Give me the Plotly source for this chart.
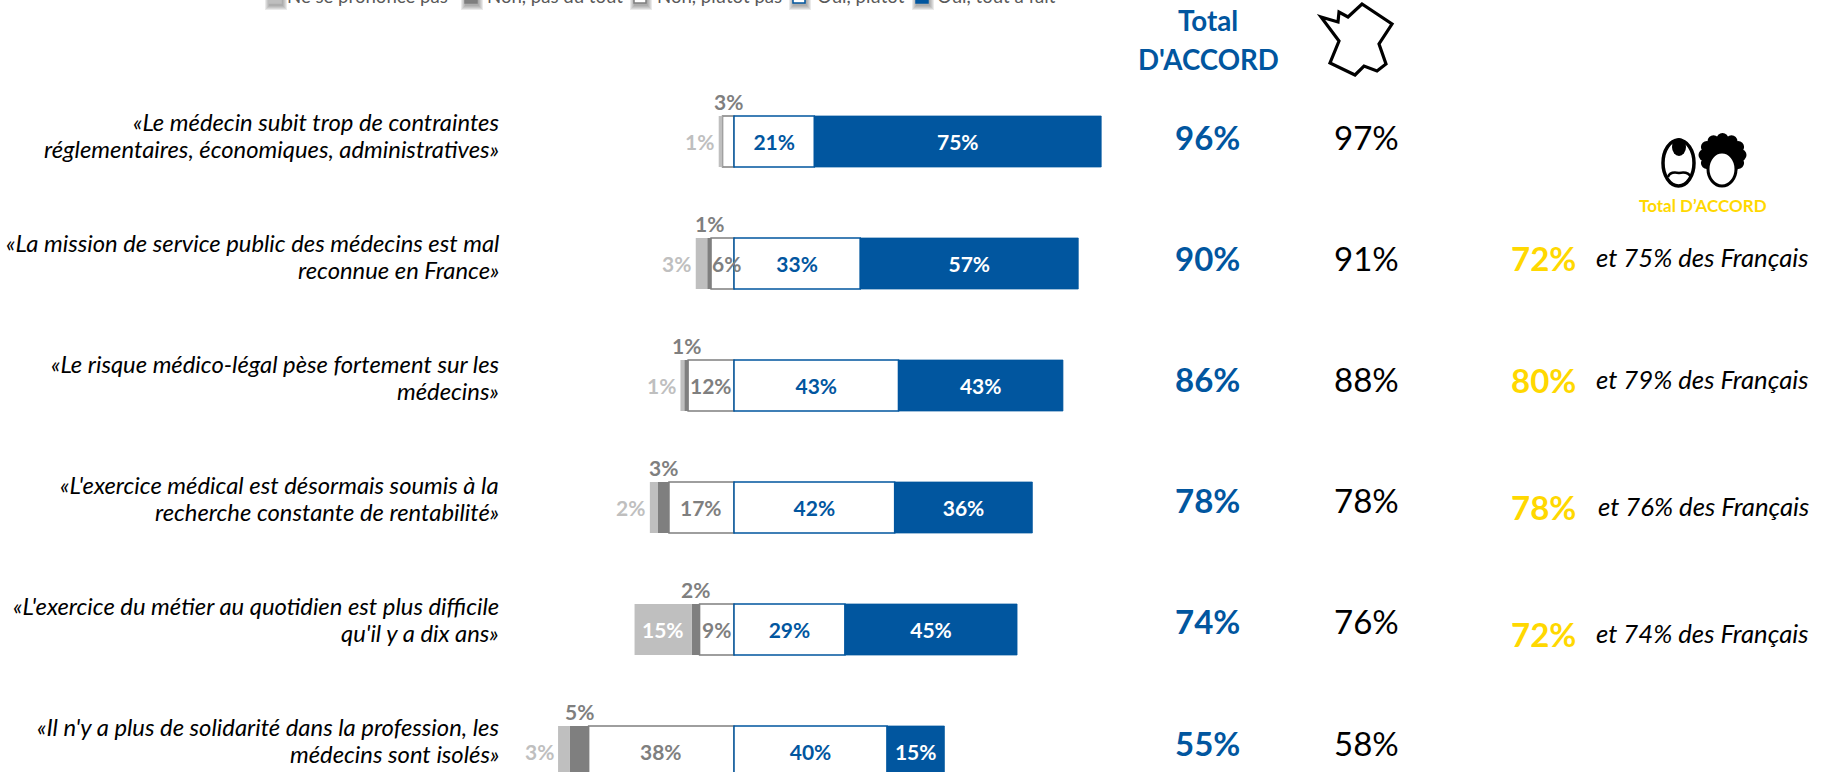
import math

import plotly.graph_objects as go

WIDTH = 1829
HEIGHT = 772
FONT = "Lato"

BLUE = "#01569F"
GREY = "#7F7F7F"
LIGHT = "#BFBFBF"
YELLOW = "#FFD800"

QUOTES = [
    "«Le médecin subit trop de contraintes<br>réglementaires, économiques, administratives»",
    "«La mission de service public des médecins est mal<br>reconnue en France»",
    "«Le risque médico-légal pèse fortement sur les<br>médecins»",
    "«L'exercice médical est désormais soumis à la<br>recherche constante de rentabilité»",
    "«L'exercice du métier au quotidien est plus difficile<br>qu'il y a dix ans»",
    "«Il n'y a plus de solidarité dans la profession, les<br>médecins sont isolés»",
]
NSP = [1, 3, 1, 2, 15, 3]
NON_DU_TOUT = [0, 1, 1, 3, 2, 5]
NON_PLUTOT = [3, 6, 12, 17, 9, 38]
OUI_PLUTOT = [21, 33, 43, 42, 29, 40]
OUI_TOUT = [75, 57, 43, 36, 45, 15]
TOTAL_ACCORD = [96, 90, 86, 78, 74, 55]
TOTAL_FRANCE = [97, 91, 88, 78, 76, 58]

DOCTORS = [72, 80, 78, 72]
FRENCH = [75, 79, 76, 74]
DOCTORS_Y = [258, 380, 507, 634]

LEGEND_LABELS = ["Ne se prononce pas", "Non, pas du tout", "Non, plutôt pas", "Oui, plutôt", "Oui, tout à fait"]
LEGEND_TEXT_X = [285, 485, 655, 815, 935]
LEGEND_SWATCH_X = [269, 465, 634, 793, 916]
LEGEND_FILL = [LIGHT, GREY, "white", "white", BLUE]
LEGEND_LINE = [LIGHT, GREY, GREY, BLUE, BLUE]

# icons, in page pixels
FRANCE_OUTLINE = [
    (1321, 17), (1338, 22), (1339, 12), (1348, 17), (1362, 4), (1392, 24), (1379, 44),
    (1386, 64), (1377, 71), (1364, 66), (1355, 75), (1330, 63), (1339, 41),
]


def px(x):
    return x / WIDTH


def py(y):
    return 1 - y / HEIGHT


def text(x, y, label, size, color="black", bold=False, italic=False, anchor="center"):
    if bold:
        label = f"<b>{label}</b>"
    if italic:
        label = f"<i>{label}</i>"
    return dict(
        x=px(x), y=py(y), xref="paper", yref="paper", text=label, showarrow=False,
        xanchor=anchor, yanchor="middle", font=dict(family=FONT, size=size, color=color),
    )


def ellipse(x0, y0, x1, y1, fill="black", line="black", width=0):
    return dict(
        type="circle", xref="paper", yref="paper", x0=px(x0), x1=px(x1), y0=py(y0), y1=py(y1),
        fillcolor=fill, line=dict(color=line, width=width), layer="above",
    )


def pct(values, sign=1):
    return [sign * v for v in values]


fig = go.Figure()


def add_bar(values, name, fill, line, line_width, labels=None, label_color="white"):
    fig.add_trace(
        go.Bar(
            y=QUOTES, x=values, orientation="h", name=name,
            marker=dict(color=fill, line=dict(color=line, width=line_width)),
            text=labels, textposition="inside", insidetextanchor="middle", textangle=0,
            constraintext="none", cliponaxis=False,
            textfont=dict(family=FONT, size=21, color=label_color, weight="bold"),
        )
    )


add_bar(pct(NON_PLUTOT, -1), "Non, plutôt pas", "white", GREY, 1.5)
add_bar(pct(NON_DU_TOUT, -1), "Non, pas du tout", GREY, GREY, 0)
add_bar(pct(NSP, -1), "Ne se prononce pas", LIGHT, LIGHT, 0)
add_bar(OUI_PLUTOT, "Oui, plutôt", "white", BLUE, 1.5, [f"{v}%" for v in OUI_PLUTOT], BLUE)
add_bar(OUI_TOUT, "Oui, tout à fait", BLUE, BLUE, 0.75, [f"{v}%" for v in OUI_TOUT], "white")

annotations = []
shapes = []

for i, quote in enumerate(QUOTES):
    left = NON_PLUTOT[i] + NON_DU_TOUT[i]

    def bar_label(x, label, color, yshift=0, xshift=0):
        return dict(
            x=x, y=quote, xref="x", yref="y", text=f"<b>{label}%</b>", showarrow=False,
            yshift=yshift, xshift=xshift, font=dict(family=FONT, size=21, color=color),
        )

    # the label above the bar belongs to the dark segment, or to the white one when there is no dark one
    if NON_DU_TOUT[i]:
        annotations.append(bar_label(-(NON_PLUTOT[i] + NON_DU_TOUT[i] / 2), NON_DU_TOUT[i], GREY, yshift=40))
        annotations.append(bar_label(-NON_PLUTOT[i] / 2, NON_PLUTOT[i], GREY, xshift=4 if NON_PLUTOT[i] == 6 else 0))
    else:
        annotations.append(bar_label(-NON_PLUTOT[i] / 2, NON_PLUTOT[i], GREY, yshift=40))

    if NSP[i] >= 10:
        annotations.append(bar_label(-(left + NSP[i] / 2), NSP[i], "white"))
    else:
        annotations.append(bar_label(-(left + NSP[i]), NSP[i], LIGHT, xshift=-19))

    # one annotation per line, plotly's own line height is too loose here
    first, second = quote.split("<br>")
    annotations.append(text(500.5, 122 + 121 * i, first, 23.8, italic=True, anchor="right"))
    annotations.append(text(500.5, 149 + 121 * i, second, 23.8, italic=True, anchor="right"))

    annotations.append(text(1207, 137 + 121.1 * i, f"{TOTAL_ACCORD[i]}%", 33, BLUE, bold=True))
    annotations.append(text(1366, 137 + 121.1 * i, f"{TOTAL_FRANCE[i]}%", 33))

annotations.append(text(1208, 21, "Total", 27.7, BLUE, bold=True))
annotations.append(text(1208, 59, "D'ACCORD", 27.7, BLUE, bold=True))
annotations.append(text(1703, 205, "Total D’ACCORD", 17, YELLOW, bold=True))

for doctors, french, y in zip(DOCTORS, FRENCH, DOCTORS_Y):
    annotations.append(text(1543, y, f"{doctors}%", 33, YELLOW, bold=True))
    annotations.append(text(1811, y - 1, f"et {french}% des Français", 25.7, italic=True, anchor="right"))

# legend sits half off the top of the page
for label, text_x, swatch_x, fill, line in zip(LEGEND_LABELS, LEGEND_TEXT_X, LEGEND_SWATCH_X, LEGEND_FILL, LEGEND_LINE):
    annotations.append(
        dict(
            x=px(text_x), y=1, xref="paper", yref="paper", text=label, showarrow=False,
            xanchor="left", yanchor="bottom", yshift=-9,
            font=dict(family=FONT, size=18.6, color="#595959"),
        )
    )
    for spread in (5, 4, 3, 2, 1):
        shapes.append(
            dict(
                type="rect", xref="paper", yref="paper", layer="above",
                x0=px(swatch_x - spread + 1), x1=px(swatch_x + 12 + spread + 1),
                y0=py(-4), y1=py(5 + spread), fillcolor="rgba(90,90,90,0.13)", line=dict(width=0),
            )
        )
    shapes.append(
        dict(
            type="rect", xref="paper", yref="paper", layer="above",
            x0=px(swatch_x), x1=px(swatch_x + 12), y0=py(-8), y1=py(3),
            fillcolor=fill, line=dict(color=line, width=1.5),
        )
    )

outline = "M " + " L ".join(f"{px(x)},{py(y)}" for x, y in FRANCE_OUTLINE) + " Z"
shapes.append(
    dict(type="path", xref="paper", yref="paper", path=outline, fillcolor="white",
         line=dict(color="black", width=3.2), layer="above")
)

# man
shapes.append(ellipse(1663, 140, 1694, 186, fill="white", width=3.5))
shapes.append(ellipse(1672, 138, 1686, 156))
shapes.append(
    dict(
        type="path", xref="paper", yref="paper", layer="above", fillcolor="rgba(0,0,0,0)",
        line=dict(color="black", width=2.5),
        path=f"M {px(1668)},{py(177)} Q {px(1670)},{py(171)} {px(1679)},{py(173)} "
             f"Q {px(1688)},{py(171)} {px(1691)},{py(177)}",
    )
)

# woman: scalloped hair with the face on top
shapes.append(ellipse(1702, 138, 1744, 174))
for angle in range(0, 360, 30):
    cx = 1722.5 + 18 * math.cos(math.radians(angle))
    cy = 155 + 16 * math.sin(math.radians(angle))
    shapes.append(ellipse(cx - 6, cy - 6, cx + 6, cy + 6))
shapes.append(ellipse(1708, 152, 1736, 186, fill="white", width=3))

fig.update_layout(
    width=WIDTH,
    height=HEIGHT,
    margin=dict(l=0, r=0, t=0, b=0),
    barmode="relative",
    bargap=0.582,
    showlegend=False,
    plot_bgcolor="white",
    paper_bgcolor="white",
    annotations=annotations,
    shapes=shapes,
    xaxis=dict(range=[-734 / 3.825, (WIDTH - 734) / 3.825], visible=False),
    yaxis=dict(
        type="category",
        categoryorder="array",
        categoryarray=QUOTES,
        range=[(HEIGHT - 141.5) / 122, -141.5 / 122],
        visible=False,
    ),
)

fig.write_html(
    "out.html",
    config=dict(displayModeBar=False),
    post_script="document.body.style.margin='0';document.body.style.overflow='hidden';",
)
